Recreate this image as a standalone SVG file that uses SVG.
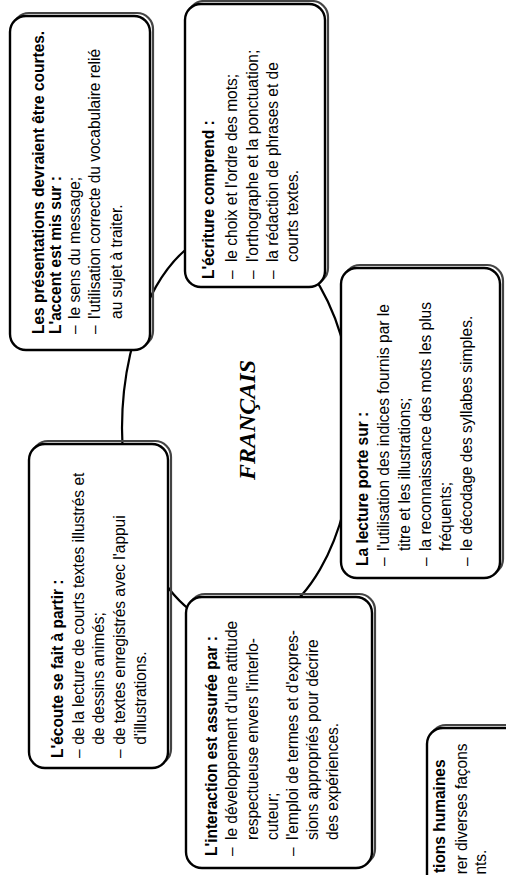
<svg xmlns="http://www.w3.org/2000/svg" width="506" height="875" viewBox="0 0 506 875">
<style>
.bg{fill:#fff}
.shadow{fill:none;stroke:#444;stroke-width:2.2}
.box{fill:#fff;stroke:#000;stroke-width:2.4}
.ring{fill:none;stroke:#000;stroke-width:2.2}
.t{font-family:"Liberation Sans",Arial,sans-serif;font-size:16.5px;fill:#000}
.b{font-weight:bold}
.title{font-family:"Liberation Serif","Times New Roman",serif;font-size:24px;font-weight:bold;font-style:italic;fill:#000}
</style>
<rect class="bg" x="0" y="0" width="506" height="875"/>

<g id="center">
  <ellipse class="ring" cx="238" cy="428" rx="116" ry="200"/>
  <text class="title" transform="translate(255,420) rotate(-90)" text-anchor="middle">FRANÇAIS</text>
</g>

<g id="connectors"></g>

<g id="presentations">
  <rect class="shadow" x="13" y="13" width="140" height="334" rx="16"/>
  <rect class="box" x="10" y="16" width="140" height="334" rx="16"/>
  <g class="t" transform="translate(0,334) rotate(-90) scale(0.94,1)">
    <text class="b" x="0" y="44">Les présentations devraient être courtes.</text>
    <text class="b" x="0" y="61">L'accent est mis sur :</text>
    <text x="0" y="80">–</text><text x="16" y="80">le sens du message;</text>
    <text x="0" y="100">–</text><text x="16" y="100">l'utilisation correcte du vocabulaire relié</text>
    <text x="16" y="122">au sujet à traiter.</text>
  </g>
</g>

<g id="ecriture">
  <rect class="shadow" x="188" y="1" width="140" height="283" rx="16"/>
  <rect class="box" x="185" y="4" width="140" height="283" rx="16"/>
  <g class="t" transform="translate(0,279) rotate(-90) scale(0.94,1)">
    <text class="b" x="0" y="214">L'écriture comprend :</text>
    <text x="0" y="237">–</text><text x="18" y="237">le choix et l'ordre des mots;</text>
    <text x="0" y="258">–</text><text x="18" y="258">l'orthographe et la ponctuation;</text>
    <text x="0" y="278">–</text><text x="18" y="278">la rédaction de phrases et de</text>
    <text x="18" y="298">courts textes.</text>
  </g>
</g>

<g id="lecture">
  <rect class="shadow" x="344" y="265" width="159" height="310" rx="16"/>
  <rect class="box" x="341" y="268" width="159" height="310" rx="16"/>
  <g class="t" transform="translate(0,566) rotate(-90) scale(0.94,1)">
    <text class="b" x="0" y="368">La lecture porte sur :</text>
    <text x="0" y="389">–</text><text x="16" y="389">l'utilisation des indices fournis par le</text>
    <text x="16" y="410">titre et les illustrations;</text>
    <text x="0" y="431">–</text><text x="16" y="431">la reconnaissance des mots les plus</text>
    <text x="16" y="451">fréquents;</text>
    <text x="0" y="472">–</text><text x="16" y="472">le décodage des syllabes simples.</text>
  </g>
</g>

<g id="ecoute">
  <rect class="shadow" x="32" y="441" width="139" height="324" rx="16"/>
  <rect class="box" x="29" y="444" width="139" height="324" rx="16"/>
  <g class="t" transform="translate(0,758) rotate(-90) scale(0.94,1)">
    <text class="b" x="0" y="63">L'écoute se fait à partir :</text>
    <text x="0" y="84">–</text><text x="14" y="84">de la lecture de courts textes illustrés et</text>
    <text x="14" y="104">de dessins animés;</text>
    <text x="0" y="125">–</text><text x="14" y="125">de textes enregistrés avec l'appui</text>
    <text x="14" y="146">d'illustrations.</text>
  </g>
</g>

<g id="interaction">
  <rect class="shadow" x="189" y="594" width="186" height="271" rx="16"/>
  <rect class="box" x="186" y="597" width="186" height="271" rx="16"/>
  <g class="t" transform="translate(0,856) rotate(-90) scale(0.94,1)">
    <text class="b" x="0" y="217">L'interaction est assurée par :</text>
    <text x="0" y="237">–</text><text x="17" y="237">le développement d'une attitude</text>
    <text x="17" y="258">respectueuse envers l'interlo-</text>
    <text x="17" y="278">cuteur;</text>
    <text x="0" y="298">–</text><text x="17" y="298">l'emploi de termes et d'expres-</text>
    <text x="17" y="318">sions appropriés pour décrire</text>
    <text x="17" y="338">des expériences.</text>
  </g>
</g>

<g id="relations">
  <rect class="shadow" x="430" y="725" width="140" height="200" rx="16"/>
  <rect class="box" x="427" y="728" width="140" height="200" rx="16"/>
  <g class="t" transform="translate(0,875) rotate(-90) scale(0.94,1)" text-anchor="end">
    <text class="b" x="123" y="445">tions humaines</text>
    <text x="140" y="467">rer diverses façons</text>
    <text x="27" y="486">nts.</text>
  </g>
</g>
</svg>
